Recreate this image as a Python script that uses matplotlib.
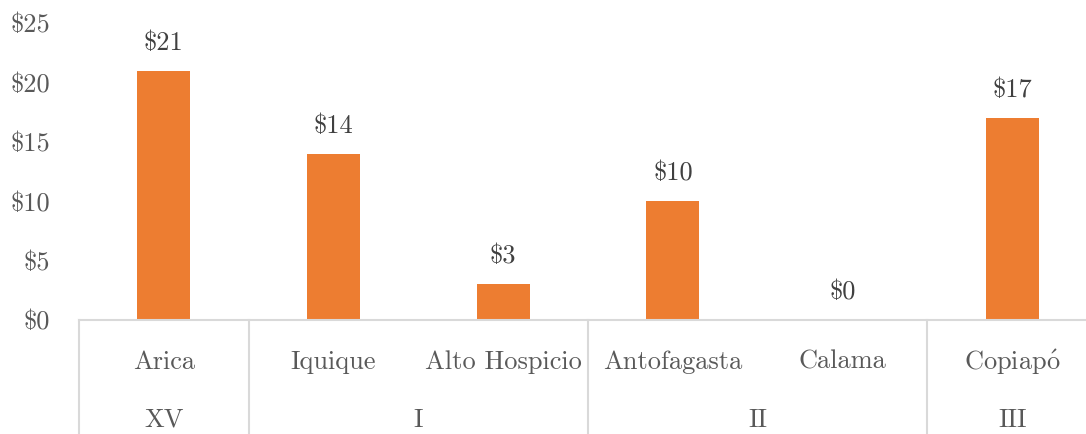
"""Bar chart of values per city, grouped by region."""
import matplotlib
matplotlib.use('Agg')
from matplotlib import pyplot as plt
from matplotlib import transforms

# data
cities = ['Arica', 'Iquique', 'Alto Hospicio', 'Antofagasta', 'Calama', r'Copiap$\mathrm{\acute{o}}$']
values = [21, 14, 3, 10, 0, 17]
regions = ['XV', 'I', 'II', 'III']
region_sizes = [1, 2, 2, 1]
y_ticks = [0, 5, 10, 15, 20, 25]

BAR_COLOR = '#ED7D31'
TEXT_COLOR = '#595959'
LABEL_COLOR = '#404040'
LINE_COLOR = '#D9D9D9'

plt.rcParams['font.family'] = ['cmr10', 'DejaVu Serif']
plt.rcParams['mathtext.fontset'] = 'cm'
plt.rcParams['font.size'] = 19
plt.rcParams['axes.unicode_minus'] = False

W, H = 1086, 434
fig = plt.figure(figsize=(W / 100, H / 100), dpi=100)
# the category axis runs a little past the right edge of the picture
left, right, bottom, top = 79, 1097, 320, 23
ax = fig.add_axes([left / W, (H - bottom) / H, (right - left) / W, (bottom - top) / H])

x = list(range(len(cities)))
ax.bar(x, values, width=0.312, color=BAR_COLOR, zorder=2)

ax.set_xlim(-0.5, len(cities) - 0.5)
ax.set_ylim(0, 25)
ax.set_yticks(y_ticks)
ax.set_yticklabels([f'\\${v}' for v in y_ticks], color=TEXT_COLOR)
ax.tick_params(axis='y', length=0, pad=21)
ax.set_xticks([])

for side in ['left', 'right', 'top']:
    ax.spines[side].set_visible(False)
ax.spines['bottom'].set_color(LINE_COLOR)
ax.spines['bottom'].set_linewidth(1.5)

# value labels
for xi, v in zip(x, values):
    ax.annotate(f'\\${v}', (xi, v), xytext=(0, 20), textcoords='offset points',
                ha='center', va='center', color=LABEL_COLOR)

# category axis: city labels, region labels and separators
trans = transforms.blended_transform_factory(ax.transData, ax.transAxes)
for xi, name in zip(x, cities):
    ax.text(xi, -0.141, name, transform=trans, ha='center', va='center', color=TEXT_COLOR)

pos = -0.5
for name, size in zip(regions, region_sizes):
    ax.plot([pos, pos], [0, -0.4], transform=trans, color=LINE_COLOR, lw=1.5, clip_on=False)
    ax.text(pos + size / 2, -0.337, name, transform=trans, ha='center', va='center',
            color=TEXT_COLOR)
    pos += size
ax.plot([pos, pos], [0, -0.4], transform=trans, color=LINE_COLOR, lw=1.5, clip_on=False)

fig.savefig('out.png', dpi=100)
